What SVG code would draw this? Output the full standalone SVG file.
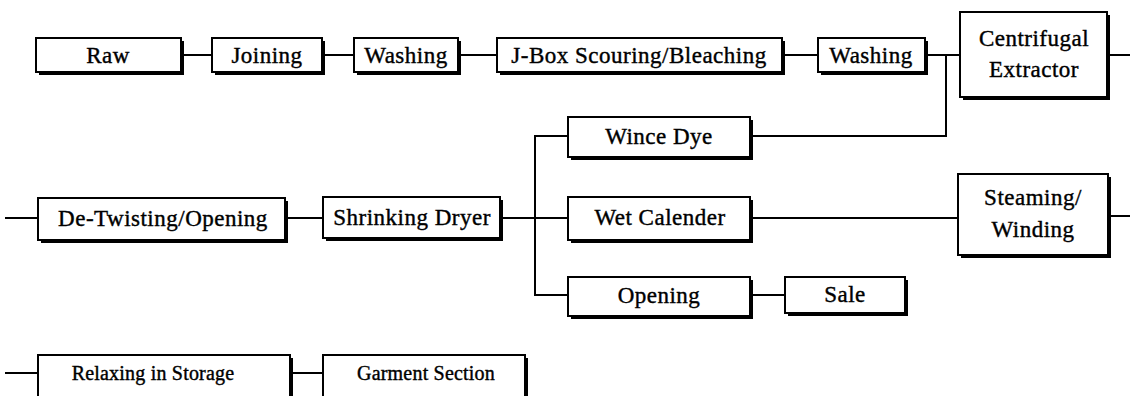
<svg xmlns="http://www.w3.org/2000/svg" width="1130" height="396" viewBox="0 0 1130 396">
<style>
.sh{fill:#000}
.bx{fill:#fff;stroke:#000;stroke-width:2}
.t{font-family:"Liberation Serif","Times New Roman",serif;font-size:23px;letter-spacing:0.5px;fill:#000;text-anchor:middle;stroke:#000;stroke-width:0.4}
.s{font-size:20px;letter-spacing:0.2px}
.c{fill:none;stroke:#000;stroke-width:2}
</style>
<rect width="1130" height="396" fill="#fff"/>
<g id="connectors">
<path class="c" d="M181 55H212M322 55H354M458 55H497M782 55H818M925 55H960M1107 55H1130"/>
<path class="c" d="M946 55V136H750"/>
<path class="c" d="M5 218H38M285 218H323M500 218H568M750 218H958M1110 216H1130"/>
<path class="c" d="M568 136H535V295H568M750 295H785"/>
<path class="c" d="M5 373H38M290 373H323"/>
</g>
<g id="raw"><rect class="sh" x="39" y="41" width="145" height="34"/><rect class="bx" x="36" y="38" width="145" height="34"/><text class="t" x="108" y="63">Raw</text></g>
<g id="joining"><rect class="sh" x="215" y="41" width="110" height="34"/><rect class="bx" x="212" y="38" width="110" height="34"/><text class="t" x="267" y="63">Joining</text></g>
<g id="washing1"><rect class="sh" x="357" y="41" width="104" height="34"/><rect class="bx" x="354" y="38" width="104" height="34"/><text class="t" x="406" y="63">Washing</text></g>
<g id="jbox"><rect class="sh" x="500" y="41" width="285" height="34"/><rect class="bx" x="497" y="38" width="285" height="34"/><text class="t" x="639" y="63">J-Box Scouring/Bleaching</text></g>
<g id="washing2"><rect class="sh" x="821" y="41" width="107" height="34"/><rect class="bx" x="818" y="38" width="107" height="34"/><text class="t" x="871" y="63">Washing</text></g>
<g id="centrifugal"><rect class="sh" x="963" y="15" width="147" height="85"/><rect class="bx" x="960" y="12" width="147" height="85"/><text class="t" x="1034" y="46">Centrifugal</text><text class="t" x="1034" y="77">Extractor</text></g>
<g id="wince"><rect class="sh" x="571" y="120" width="182" height="40"/><rect class="bx" x="568" y="117" width="182" height="40"/><text class="t" x="659" y="144">Wince Dye</text></g>
<g id="detwist"><rect class="sh" x="41" y="201" width="247" height="42"/><rect class="bx" x="38" y="198" width="247" height="42"/><text class="t" x="163" y="226">De-Twisting/Opening</text></g>
<g id="shrink"><rect class="sh" x="326" y="200" width="177" height="41"/><rect class="bx" x="323" y="197" width="177" height="41"/><text class="t" x="412" y="225">Shrinking Dryer</text></g>
<g id="wetcal"><rect class="sh" x="571" y="200" width="182" height="43"/><rect class="bx" x="568" y="197" width="182" height="43"/><text class="t" x="660" y="225">Wet Calender</text></g>
<g id="steaming"><rect class="sh" x="961" y="177" width="150" height="81"/><rect class="bx" x="958" y="174" width="150" height="81"/><text class="t" x="1033" y="205">Steaming/</text><text class="t" x="1033" y="237">Winding</text></g>
<g id="opening"><rect class="sh" x="571" y="280" width="182" height="39"/><rect class="bx" x="568" y="277" width="182" height="39"/><text class="t" x="659" y="303">Opening</text></g>
<g id="sale"><rect class="sh" x="788" y="280" width="120" height="36"/><rect class="bx" x="785" y="277" width="120" height="36"/><text class="t" x="845" y="302">Sale</text></g>
<g id="relaxing"><rect class="sh" x="41" y="358" width="252" height="50"/><rect class="bx" x="38" y="355" width="252" height="50"/><text class="t s" x="153" y="380">Relaxing in Storage</text></g>
<g id="garment"><rect class="sh" x="326" y="358" width="202" height="50"/><rect class="bx" x="323" y="355" width="202" height="50"/><text class="t s" x="426" y="380">Garment Section</text></g>
</svg>
